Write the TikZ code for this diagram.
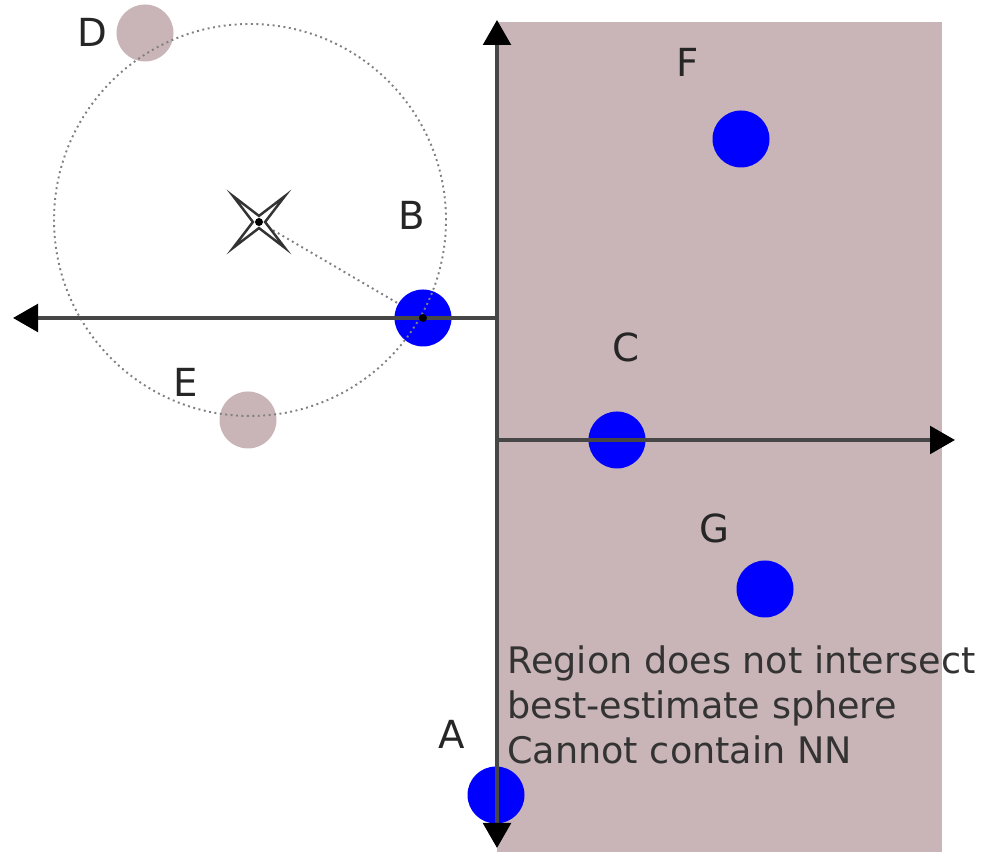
\documentclass[tikz,border=0pt]{standalone}
\usepackage{fontspec}
\setmainfont{DejaVu Sans}
\usetikzlibrary{shapes.geometric, arrows.meta}
\definecolor{regionpink}{RGB}{201,180,183}
\definecolor{axisgrey}{RGB}{70,70,70}

\begin{document}
\begin{tikzpicture}[
		pt/.style={circle, fill=blue, minimum size=1.14cm, inner sep=0pt},
		gone/.style={circle, fill=regionpink, minimum size=1.14cm, inner sep=0pt},
		lbl/.style={font=\fontsize{22}{26}\selectfont, text=black!85, inner sep=0pt},
		guess/.style={draw=black!50, dotted, line width=1.1pt},
		axis/.style={draw=axisgrey, line width=2.2pt, >={Triangle[length=0.5cm, width=0.55cm, color=black]}}
	]
				\useasboundingbox (0,0) rectangle (19.62,17.04);
				\node[shape=coordinate] (top) at (9.94,16.64) {};
				\node[shape=coordinate] (bot) at (9.94,0.08) {};
				\node[shape=coordinate] (o1) at (9.94,8.24) {};
				\node[shape=coordinate] (xr) at (19.1,8.24) {};
				\node[shape=coordinate] (o2) at (9.94,10.68) {};
				\node[shape=coordinate] (xl) at (0.26,10.68) {};
				\node[shape=coordinate] (ctr) at (5.0,12.64) {};
				\node[shape=coordinate] (q) at (5.18,12.6) {};
				\fill[regionpink] (9.94,0) rectangle (18.84,16.6);
				\node[pt] (F) at (14.82,14.26) {};
				\node[pt] (C) at (12.34,8.24) {};
				\node[pt] (G) at (15.3,5.26) {};
				\node[pt] (A) at (9.92,1.14) {};
				\node[pt] (B) at (8.46,10.68) {};
				\node[gone] (D) at (2.9,16.38) {};
				\node[gone] (E) at (4.96,8.64) {};
				\draw[guess] (ctr) circle (3.92);
				\draw[guess] (q) -- (B);
				\node[star, star points=4, star point ratio=6, rotate=45, minimum size=1.46cm, inner sep=0pt, draw=black!80, fill=white, line width=1.4pt] (X) at (q) {};
				\fill (q) circle (0.08);
				\begin{scope}[axis]
					\draw[<->] (bot) -- (top);
					\draw[->] (o1) -- (xr);
					\draw[->] (o2) -- (xl);
				\end{scope}
				\fill (B) circle (0.08);
				\node[lbl] (lD) at (1.84,16.4) {D};
				\node[lbl] (lF) at (13.76,15.8) {F};
				\node[lbl] (lB) at (8.24,12.74) {B};
				\node[lbl] (lC) at (12.52,10.1) {C};
				\node[lbl] (lE) at (3.72,9.4) {E};
				\node[lbl] (lG) at (14.28,6.48) {G};
				\node[lbl] (lA) at (9.04,2.36) {A};
				\node[anchor=west, align=left, font=\fontsize{20.8}{25.6}\selectfont, text=black!80, inner sep=0pt] (note) at (10.14,2.94) {Region does not intersect\\best-estimate sphere\\Cannot contain NN};
			\end{tikzpicture}
\end{document}
